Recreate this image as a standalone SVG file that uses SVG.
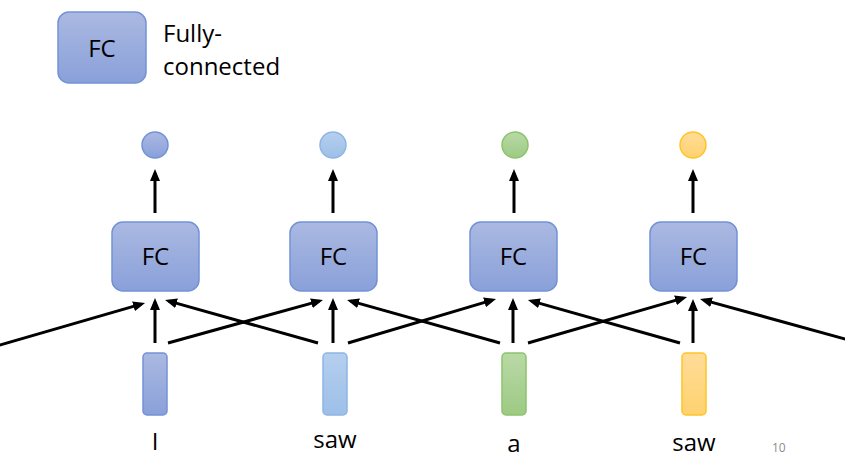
<svg xmlns="http://www.w3.org/2000/svg" width="845" height="467" viewBox="0 0 845 467">
  <defs>
    <linearGradient id="gBlue" x1="0" y1="0" x2="0" y2="1">
      <stop offset="0" stop-color="#abb9e2"/>
      <stop offset="1" stop-color="#89a0d9"/>
    </linearGradient>
    <linearGradient id="gLight" x1="0" y1="0" x2="0" y2="1">
      <stop offset="0" stop-color="#b5cfee"/>
      <stop offset="1" stop-color="#9dbfe8"/>
    </linearGradient>
    <linearGradient id="gGreen" x1="0" y1="0" x2="0" y2="1">
      <stop offset="0" stop-color="#b9d9a6"/>
      <stop offset="1" stop-color="#9dca84"/>
    </linearGradient>
    <linearGradient id="gOrange" x1="0" y1="0" x2="0" y2="1">
      <stop offset="0" stop-color="#ffdc98"/>
      <stop offset="1" stop-color="#ffd270"/>
    </linearGradient>
    <marker id="arrow" markerUnits="userSpaceOnUse" markerWidth="12" markerHeight="10" refX="8" refY="5" orient="auto">
      <path d="M0,0 L12,5 L0,10 z" fill="#000"/>
    </marker>
  </defs>
  <style>
    .box { fill: url(#gBlue); stroke: #7392d6; stroke-width: 1.5; }
    .blue { fill: url(#gBlue); stroke: #7392d6; stroke-width: 1.5; }
    .light { fill: url(#gLight); stroke: #8db5e5; stroke-width: 1.5; }
    .green { fill: url(#gGreen); stroke: #8cc36c; stroke-width: 1.5; }
    .orange { fill: url(#gOrange); stroke: #ffc526; stroke-width: 1.5; }
    .t { font-family: "Open Sans", "Liberation Sans", sans-serif; font-size: 24px; fill: #000; }
    .c { text-anchor: middle; }
    .conn line { stroke: #000; stroke-width: 3; marker-end: url(#arrow); }
    .pg { font-family: "Open Sans", "Liberation Sans", sans-serif; font-size: 12px; fill: #8c8c8c; }
  </style>
  <rect width="845" height="467" fill="#fff"/>

  <g id="legend">
    <rect class="box" x="58" y="12" width="88" height="71" rx="11"/>
    <text class="t c" x="102" y="57">FC</text>
    <text class="t" x="163" y="42">Fully-</text>
    <text class="t" x="163" y="75">connected</text>
  </g>

  <g id="fc1"><rect class="box" x="112" y="222" width="87" height="69" rx="11"/><text class="t c" x="155.5" y="265">FC</text></g>
  <g id="fc2"><rect class="box" x="290" y="222" width="87" height="69" rx="11"/><text class="t c" x="333.5" y="265">FC</text></g>
  <g id="fc3"><rect class="box" x="470" y="222" width="87" height="69" rx="11"/><text class="t c" x="513.5" y="265">FC</text></g>
  <g id="fc4"><rect class="box" x="650" y="222" width="87" height="69" rx="11"/><text class="t c" x="693.5" y="265">FC</text></g>

  <g id="out1"><circle class="blue" cx="155" cy="145" r="13"/></g>
  <g id="out2"><circle class="light" cx="333" cy="145" r="13"/></g>
  <g id="out3"><circle class="green" cx="515" cy="145" r="13"/></g>
  <g id="out4"><circle class="orange" cx="693" cy="145" r="13"/></g>

  <g id="in1"><rect class="blue" x="143" y="353" width="24" height="62" rx="4"/><text class="t c" x="155" y="450">I</text></g>
  <g id="in2"><rect class="light" x="323" y="353" width="24" height="62" rx="4"/><text class="t c" x="335" y="448">saw</text></g>
  <g id="in3"><rect class="green" x="502" y="353" width="24" height="62" rx="4"/><text class="t c" x="514" y="452">a</text></g>
  <g id="in4"><rect class="orange" x="682" y="353" width="24" height="62" rx="4"/><text class="t c" x="694" y="451">saw</text></g>

  <g id="connectors" class="conn">
    <line x1="155" y1="213" x2="155" y2="173"/>
    <line x1="333" y1="213" x2="333" y2="173"/>
    <line x1="514" y1="213" x2="514" y2="173"/>
    <line x1="693" y1="213" x2="693" y2="173"/>

    <line x1="155" y1="343" x2="155" y2="302"/>
    <line x1="333" y1="343" x2="333" y2="302"/>
    <line x1="513" y1="343" x2="513" y2="302"/>
    <line x1="693" y1="343" x2="693" y2="303"/>

    <line x1="-5" y1="346.4" x2="141.2" y2="304.1"/>
    <line x1="168" y1="343" x2="319.1" y2="301.1"/>
    <line x1="318" y1="343" x2="168.9" y2="301.1"/>
    <line x1="348" y1="343" x2="492.2" y2="300.1"/>
    <line x1="500" y1="343" x2="350.9" y2="301.1"/>
    <line x1="528" y1="343" x2="683.2" y2="298.1"/>
    <line x1="680" y1="343" x2="531.8" y2="301.1"/>
    <line x1="850" y1="340.4" x2="703.9" y2="300.1"/>
  </g>

  <text class="pg" x="772" y="452">10</text>
</svg>
